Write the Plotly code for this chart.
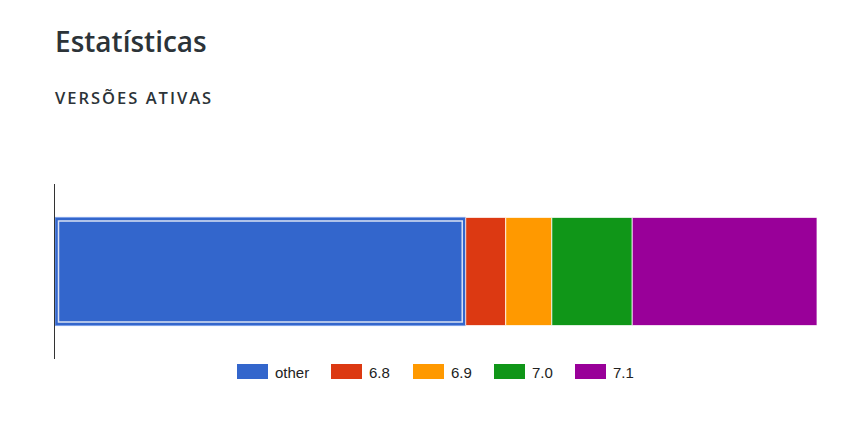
import numpy as np
import plotly.graph_objects as go

# ---- data ----
versions = ["other", "6.8", "6.9", "7.0", "7.1"]
shares = [53.9, 5.25, 6.05, 10.55, 24.25]
colors = ["#3366cc", "#dc3912", "#ff9900", "#109618", "#990099"]
category = ["Versões"]
title_text = "Estatísticas"
subtitle_text = "VERSÕES ATIVAS"

OFF = 8  # page body margin
W, H = 845, 406
L, T = 55 - OFF, 184 - OFF
R = W - (817 - OFF)
B = H - (359 - OFF)
PW, PH = W - L - R, H - T - B
BAR_W = 0.618

def px_to_paper(px, py):
    # px, py are page coordinates
    px -= OFF
    py -= OFF
    return (px - L) / PW, (H - B - py) / PH

bases = np.concatenate([[0], np.cumsum(shares)[:-1]])
total = float(np.sum(shares))

fig = go.Figure()
for i, (name, val, col) in enumerate(zip(versions, shares, colors)):
    fig.add_trace(go.Bar(
        y=category, x=[val], base=[bases[i]], orientation="h", name=name,
        width=BAR_W,
        marker=dict(color=col,
                    line=dict(color="#7a9fe8" if i == 0 else "rgba(255,255,255,0.75)", width=1)),
        showlegend=False, hoverinfo="skip",
    ))

# selection highlight on the first segment (inset outline)
inset_x = 3.5 / PW * total
inset_y = 3.5 / PH
fig.add_trace(go.Bar(
    y=category, x=[shares[0] - 2 * inset_x], base=[bases[0] + inset_x], orientation="h",
    width=BAR_W - 2 * inset_y,
    marker=dict(color="rgba(0,0,0,0)", line=dict(color="rgba(225,232,245,0.95)", width=1.5)),
    showlegend=False, hoverinfo="skip",
))

# ---- manual legend (Google-style wide swatches) ----
shapes = []
annotations = []
leg_x = [237, 331, 413, 494, 575]
for name, col, lx in zip(versions, colors, leg_x):
    x0, y0 = px_to_paper(lx, 364)
    x1, y1 = px_to_paper(lx + 31, 379)
    shapes.append(dict(type="rect", xref="paper", yref="paper", x0=x0, x1=x1, y0=y1, y1=y0,
                       fillcolor=col, line=dict(width=0), layer="above"))
    tx, ty = px_to_paper(lx + 36, 372)
    annotations.append(dict(text=name, xref="paper", yref="paper", x=tx, y=ty,
                            xanchor="left", yanchor="middle", showarrow=False,
                            font=dict(family="Liberation Sans, Arial", size=15, color="#222222")))

tx, ty = px_to_paper(53, 41)
annotations.append(dict(text=title_text, xref="paper", yref="paper", x=tx, y=ty,
                        xanchor="left", yanchor="middle", showarrow=False,
                        font=dict(family="Open Sans", size=28, color="#2c3338", weight=600)))
tx, ty = px_to_paper(53, 97)
annotations.append(dict(text=subtitle_text, xref="paper", yref="paper", x=tx, y=ty,
                        xanchor="left", yanchor="middle", showarrow=False,
                        font=dict(family="Open Sans", size=16.5, color="#2c3338", weight=600)))

fig.update_layout(
    width=W, height=H,
    margin=dict(l=L, r=R, t=T, b=B),
    paper_bgcolor="white", plot_bgcolor="white",
    barmode="overlay",
    xaxis=dict(range=[0, total], showgrid=False, zeroline=False, showticklabels=False,
               showline=False, ticks=""),
    yaxis=dict(range=[-0.5, 0.5], showgrid=False, zeroline=False, showticklabels=False,
               showline=True, linecolor="#333333", linewidth=1, ticks=""),
    shapes=shapes, annotations=annotations,
    showlegend=False,
)

post = """
document.querySelectorAll('.annotation-text').forEach(function(t){
  if (t.textContent.indexOf('VERS') === 0) {
    var b0 = t.getBBox();
    t.style.letterSpacing = '2px';
    var b1 = t.getBBox();
    var x = parseFloat(t.getAttribute('x') || '0');
    t.setAttribute('x', x + (b0.x - b1.x));
  }
});
"""
fig.write_html("out.html", post_script=post)
